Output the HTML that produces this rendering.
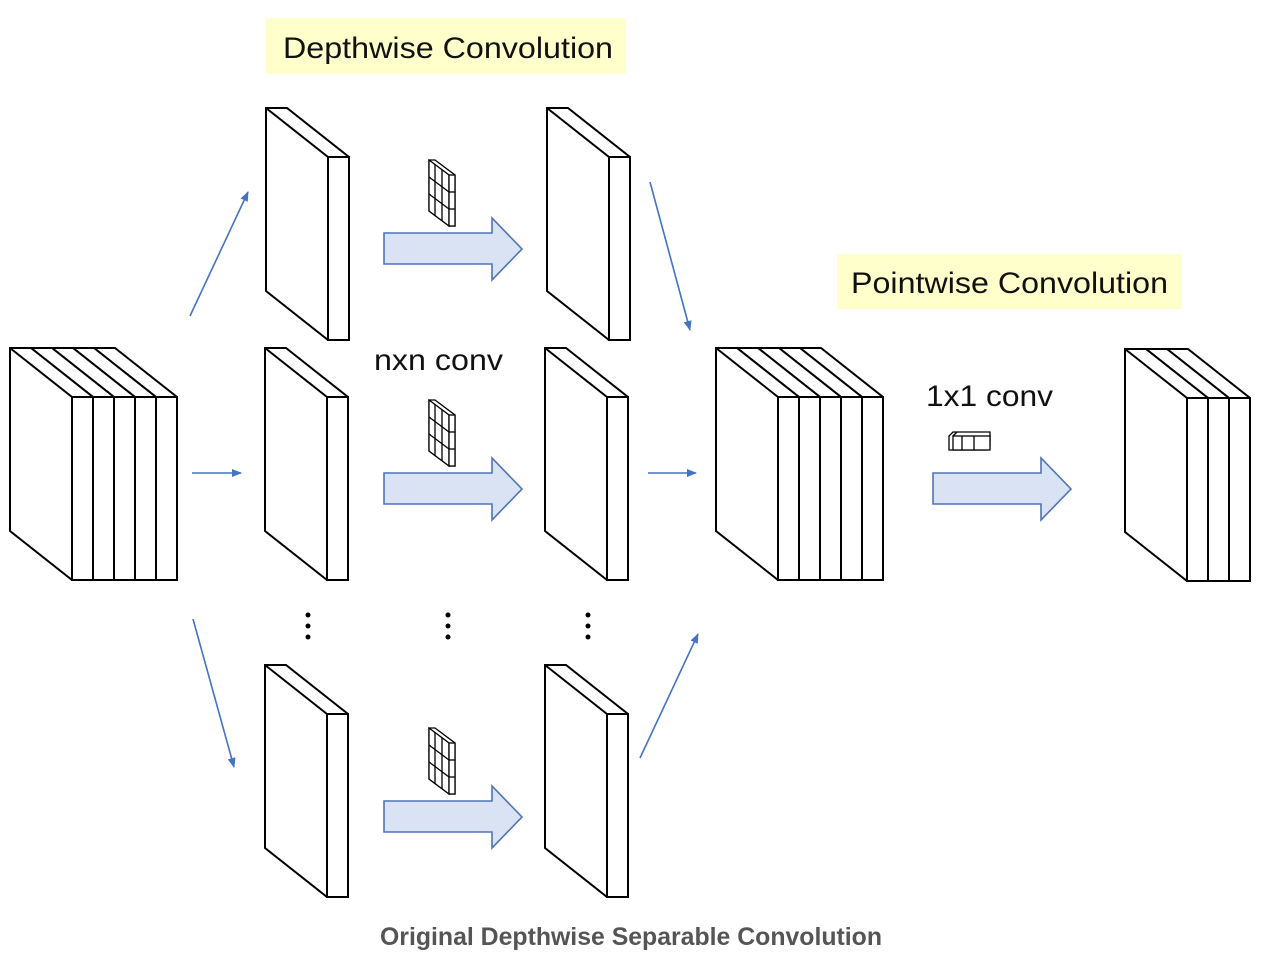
<!DOCTYPE html>
<html><head><meta charset="utf-8"><style>
html,body{margin:0;padding:0;background:#fff;}
svg{display:block;}
</style></head><body>
<svg width="1280" height="964" viewBox="0 0 1280 964" xmlns="http://www.w3.org/2000/svg">
<defs>
<g id="s" fill="#fff" stroke="#000" stroke-width="2" stroke-linejoin="miter">
<polygon points="0,0 21,0 83,49 83,232 62,232 0,183"/>
<line x1="0" y1="0" x2="62" y2="49"/>
<rect x="62" y="49" width="21" height="183"/>
</g>
<g id="k" fill="#fff" stroke="#000" stroke-width="1.3">
<polygon points="0,0 6,0 26,15 26,66 20,66 0,51"/>
<polygon points="0,0 20,15 20,66 0,51"/>
<line x1="6" y1="4.5" x2="6" y2="55.5"/><line x1="13" y1="9.7" x2="13" y2="60.7"/>
<line x1="0" y1="17" x2="20" y2="32"/><line x1="0" y1="34" x2="20" y2="49"/>
<rect x="20" y="15" width="6" height="51"/>
<line x1="20" y1="32" x2="26" y2="32"/><line x1="20" y1="49" x2="26" y2="49"/>
</g>
<g id="a" fill="#dae3f3" stroke="#4f74b4" stroke-width="1.6">
<polygon points="0,15 108,15 108,0 138,31 108,62 108,46 0,46"/>
</g>
<marker id="m" markerWidth="10" markerHeight="8" refX="9" refY="4" orient="auto" markerUnits="userSpaceOnUse">
<polygon points="0,0 10,4 0,8" fill="#4472c4"/>
</marker>
</defs>

<rect x="266" y="18" width="360" height="56" fill="#ffffcc"/>
<text x="283" y="58" font-family="Liberation Sans, sans-serif" font-size="30" textLength="330" lengthAdjust="spacingAndGlyphs" fill="#111">Depthwise Convolution</text>
<rect x="837" y="254" width="345" height="55" fill="#ffffcc"/>
<text x="851" y="293" font-family="Liberation Sans, sans-serif" font-size="30" textLength="317" lengthAdjust="spacingAndGlyphs" fill="#111">Pointwise Convolution</text>

<use href="#s" x="94" y="348"/><use href="#s" x="73" y="348"/><use href="#s" x="52" y="348"/><use href="#s" x="31" y="348"/><use href="#s" x="10" y="348"/>

<use href="#s" x="266" y="108"/><use href="#s" x="265" y="348"/><use href="#s" x="265" y="665"/>
<use href="#s" x="547" y="108"/><use href="#s" x="545" y="348"/><use href="#s" x="545" y="665"/>

<use href="#s" x="800" y="348"/><use href="#s" x="779" y="348"/><use href="#s" x="758" y="348"/><use href="#s" x="737" y="348"/><use href="#s" x="716" y="348"/>

<use href="#s" x="1167" y="349"/><use href="#s" x="1146" y="349"/><use href="#s" x="1125" y="349"/>

<use href="#k" x="429" y="160"/><use href="#k" x="429" y="400"/><use href="#k" x="429" y="728"/>
<g fill="#fff" stroke="#000" stroke-width="1.3">
<polygon points="949,436 953,432 990,432 990,446 986,450 949,450"/>
<rect x="953" y="436" width="37" height="14"/>
<line x1="962" y1="436" x2="962" y2="450"/><line x1="974" y1="436" x2="974" y2="450"/>
<line x1="953" y1="436" x2="957" y2="432"/>
</g>

<use href="#a" x="384" y="218"/><use href="#a" x="384" y="458"/><use href="#a" x="384" y="786"/><use href="#a" x="933" y="458"/>

<g stroke="#4472c4" stroke-width="1.6" marker-end="url(#m)">
<line x1="190" y1="316" x2="248" y2="192"/>
<line x1="192" y1="473" x2="241" y2="473"/>
<line x1="193" y1="619" x2="234" y2="767"/>
<line x1="650" y1="182" x2="690" y2="330"/>
<line x1="648" y1="473" x2="696" y2="473"/>
<line x1="640" y1="758" x2="698" y2="634"/>
</g>

<text x="374" y="370" font-family="Liberation Sans, sans-serif" font-size="30" textLength="129" lengthAdjust="spacingAndGlyphs" fill="#111">nxn conv</text>
<text x="926" y="406" font-family="Liberation Sans, sans-serif" font-size="30" textLength="127" lengthAdjust="spacingAndGlyphs" fill="#111">1x1 conv</text>

<g fill="#000">
<circle cx="308" cy="615" r="2.5"/><circle cx="308" cy="626" r="2.5"/><circle cx="308" cy="637" r="2.5"/>
<circle cx="448" cy="615" r="2.5"/><circle cx="448" cy="626" r="2.5"/><circle cx="448" cy="637" r="2.5"/>
<circle cx="588" cy="615" r="2.5"/><circle cx="588" cy="626" r="2.5"/><circle cx="588" cy="637" r="2.5"/>
</g>

<text x="631" y="945" text-anchor="middle" font-family="Liberation Sans, sans-serif" font-size="25" font-weight="bold" textLength="502" lengthAdjust="spacingAndGlyphs" fill="#555">Original Depthwise Separable Convolution</text>
</svg>
</body></html>
